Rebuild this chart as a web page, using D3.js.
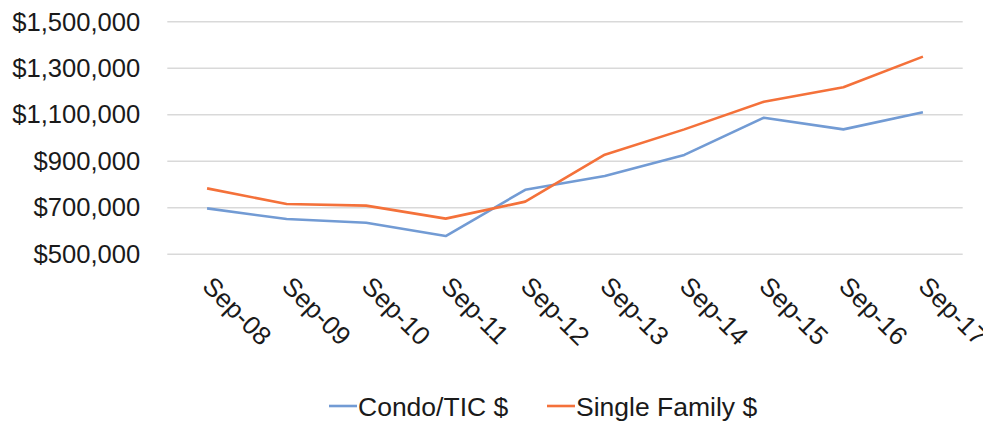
<!DOCTYPE html>
<meta charset="utf-8">
<style>
  body { margin: 0; background: #fff; }
  text { font-family: "Liberation Sans", Arial, sans-serif; fill: #1a1a1a; }
  .grid line { stroke: #d9d9d9; stroke-width: 1.5; }
  .grid .domain { display: none; }
  .line { fill: none; stroke-width: 2.6; stroke-linejoin: round; }
</style>
<svg width="983" height="423"></svg>
<script src="https://cdn.jsdelivr.net/npm/d3@7"></script>
<script>
  var months = ["Sep-08", "Sep-09", "Sep-10", "Sep-11", "Sep-12", "Sep-13", "Sep-14", "Sep-15", "Sep-16", "Sep-17"];
  var condo = [695000, 649000, 633000, 576000, 775000, 834000, 925000, 1085000, 1035000, 1109000];
  var single = [781000, 714000, 707000, 651000, 724000, 926000, 1035000, 1154000, 1216000, 1348000];
  var yTicks = [500000, 700000, 900000, 1100000, 1300000, 1500000];
  var seriesNames = ["Condo/TIC $", "Single Family $"];
  var colors = ["#729bd4", "#f4713a"];

  var svg = d3.select("svg");
  var margin = { top: 21.3, right: 20.3, bottom: 169.3, left: 167.3 };
  var width = 983 - margin.left - margin.right;
  var height = 423 - margin.top - margin.bottom;
  var g = svg.append("g").attr("transform", "translate(" + margin.left + "," + margin.top + ")");

  var x = d3.scaleBand().domain(months).range([0, width]);
  var y = d3.scaleLinear().domain([500000, 1500000]).range([height, 0]);
  var fmt = d3.format("$,");

  // gridlines
  g.append("g")
    .attr("class", "grid")
    .call(d3.axisLeft(y).tickValues(yTicks).tickSize(-width).tickFormat(""));

  // y labels
  g.selectAll(".ylab")
    .data(yTicks)
    .enter().append("text")
    .attr("class", "ylab")
    .attr("x", -27)
    .attr("y", function(d) { return y(d); })
    .attr("dy", "0.36em")
    .attr("text-anchor", "end")
    .style("font-size", "25.6px")
    .text(fmt);

  // x labels, rotated
  g.selectAll(".xlab")
    .data(months)
    .enter().append("text")
    .attr("class", "xlab")
    .attr("transform", function(d) {
      return "translate(" + (x(d) + x.bandwidth() / 2 - 6) + "," + (height + 34) + ") rotate(45)";
    })
    .style("font-size", "26px")
    .text(function(d) { return d; });

  var line = d3.line()
    .x(function(d, i) { return x(months[i]) + x.bandwidth() / 2; })
    .y(function(d) { return y(d); });

  [condo, single].forEach(function(s, i) {
    g.append("path")
      .datum(s)
      .attr("class", "line")
      .attr("stroke", colors[i])
      .attr("d", line);
  });

  // legend
  var legendX = [329, 547];
  var legend = svg.selectAll(".legend")
    .data(seriesNames)
    .enter().append("g")
    .attr("class", "legend")
    .attr("transform", function(d, i) { return "translate(" + legendX[i] + ",406)"; });
  legend.append("line")
    .attr("x1", 0).attr("x2", 28)
    .attr("stroke", function(d, i) { return colors[i]; })
    .attr("stroke-width", 2.6);
  legend.append("text")
    .attr("x", 29)
    .attr("dy", "0.36em")
    .style("font-size", "26.5px")
    .text(function(d) { return d; });
</script>
